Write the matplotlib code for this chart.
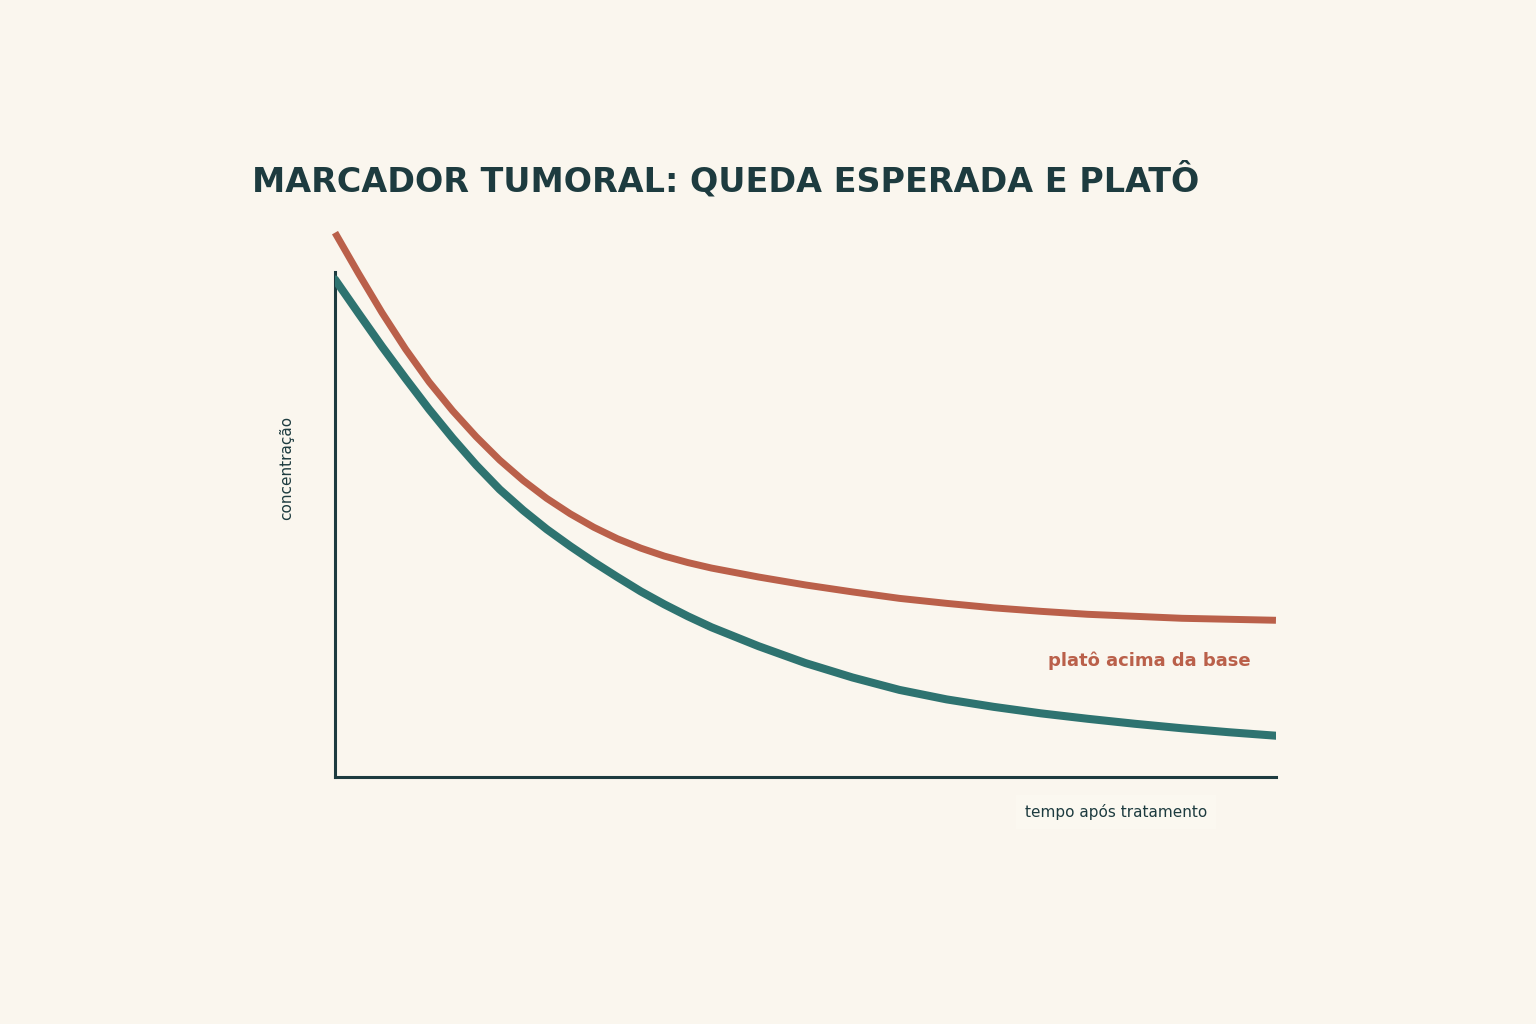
import matplotlib
matplotlib.use('Agg')
import matplotlib.pyplot as plt

# values (time in arbitrary units, concentration normalised)
tempo = [0, 0.25, 0.5, 0.75, 1.0, 1.25, 1.5, 1.75, 2.0, 2.25, 2.5, 2.75, 3.0, 3.25, 3.5, 3.75, 4.0,
         4.5, 5.0, 5.5, 6.0, 6.5, 7.0, 7.5, 8.0, 8.5, 9.0, 9.5, 10.0]
queda_esperada = [1.000, 0.932, 0.865, 0.801, 0.739, 0.681, 0.627, 0.578, 0.536, 0.498, 0.464,
                  0.432, 0.402, 0.373, 0.347, 0.323, 0.301,
                  0.263, 0.229, 0.200, 0.175, 0.156, 0.141, 0.128, 0.117, 0.107, 0.098, 0.090, 0.083]
plato = [1.094, 1.012, 0.933, 0.860, 0.794, 0.736, 0.684, 0.637, 0.596, 0.560, 0.529,
         0.502, 0.479, 0.460, 0.444, 0.431, 0.420,
         0.402, 0.386, 0.372, 0.359, 0.349, 0.340, 0.333, 0.327, 0.323, 0.319, 0.317, 0.315]

BG = '#FAF6EE'
DARK = '#1D3B3F'
TEAL = '#2E7370'
RED = '#BA604A'

fig = plt.figure(figsize=(15.36, 10.24), dpi=100, facecolor=BG)
ax = fig.add_axes([0.2181, 0.2412, 0.6126, 0.4932])
ax.set_facecolor(BG)

ax.plot(tempo, queda_esperada, color=TEAL, lw=5.8, solid_capstyle='round',
        solid_joinstyle='round', zorder=3)
ax.plot(tempo, plato, color=RED, lw=5.0, solid_capstyle='butt', solid_joinstyle='round',
        clip_on=False, zorder=2)

ax.set_xlim(0, 10)
ax.set_ylim(0, 1.015)
ax.set_xticks([])
ax.set_yticks([])
for side in ['top', 'right']:
    ax.spines[side].set_visible(False)
for side in ['left', 'bottom']:
    ax.spines[side].set_color(DARK)
    ax.spines[side].set_linewidth(2.2)

ax.text(9.73, 0.233, 'platô acima da base', color=RED, fontsize=13,
        fontweight='bold', ha='right', va='center')

fig.text(252 / 1536, 1 - 180 / 1024, 'MARCADOR TUMORAL: QUEDA ESPERADA E PLATÔ',
         fontsize=24, fontweight='bold', color=DARK, ha='left', va='center')
fig.text(287 / 1536, 1 - 468 / 1024, 'concentração', fontsize=11, color=DARK,
         rotation=90, ha='center', va='center')
fig.text(1116 / 1536, 1 - 812 / 1024, 'tempo após tratamento', fontsize=11, color=DARK,
         ha='center', va='center',
         bbox=dict(boxstyle='square,pad=0.6', facecolor='#FBF8F0', edgecolor='none'))

fig.savefig('out.png', dpi=100, facecolor=BG)
